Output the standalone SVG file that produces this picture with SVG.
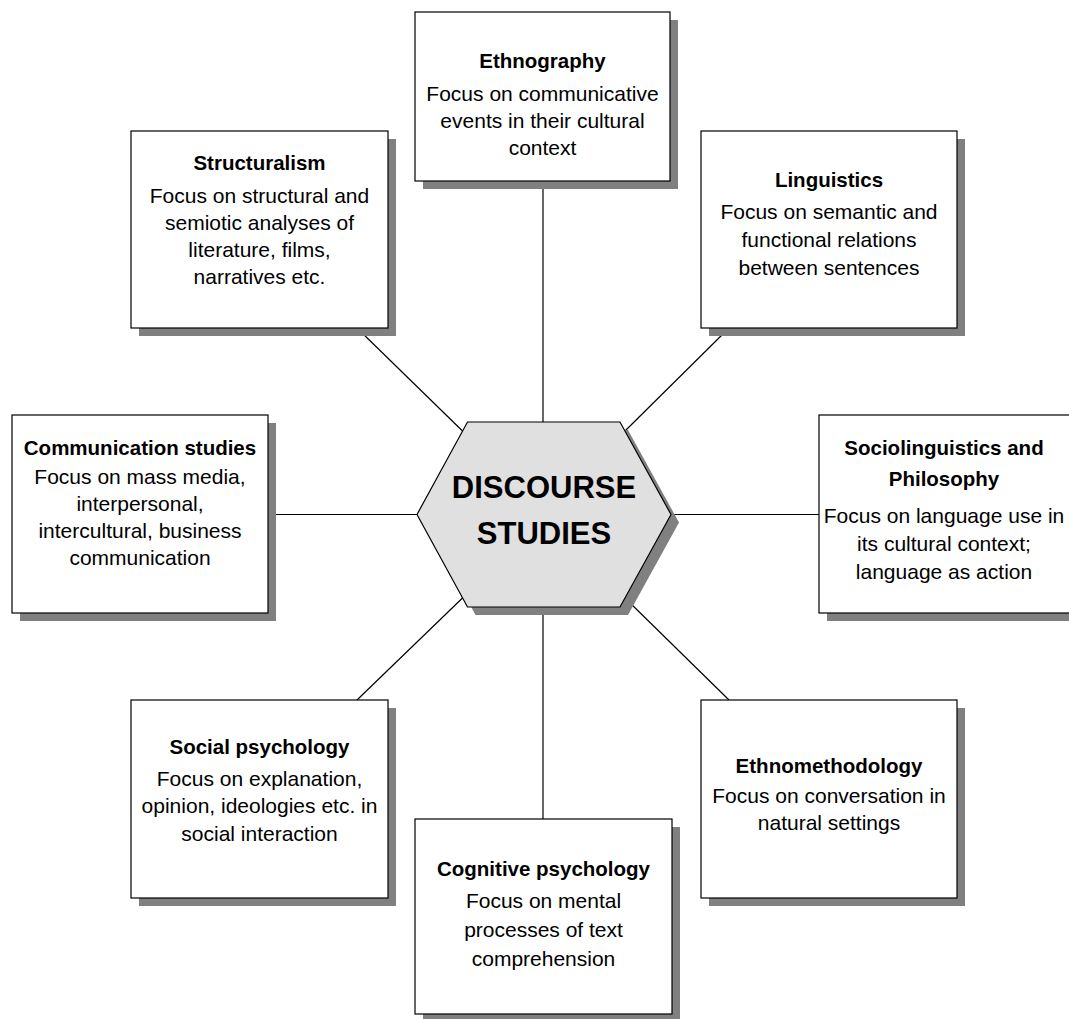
<svg xmlns="http://www.w3.org/2000/svg" width="1069" height="1019" viewBox="0 0 1069 1019">
<style>
.box{fill:#ffffff;stroke:#000000;stroke-width:1.2}
.shadow{fill:#808080}
.hex{fill:#e0e0e0;stroke:#000000;stroke-width:1.2}
.conn{stroke:#000000;stroke-width:1.2;fill:none}
text{font-family:"Liberation Sans",Arial,sans-serif;fill:#000000;text-anchor:middle}
.t{font-weight:bold;font-size:20.5px}
.b{font-size:21px}
.c{font-weight:bold;font-size:31px}
</style>
<rect width="1069" height="1019" fill="#ffffff"/>
<g id="connectors">
<line class="conn" x1="543" y1="181" x2="543" y2="422"/>
<line class="conn" x1="543" y1="607" x2="543" y2="819"/>
<line class="conn" x1="268" y1="514.5" x2="417" y2="514.5"/>
<line class="conn" x1="671" y1="514.5" x2="819" y2="514.5"/>
<line class="conn" x1="357" y1="328" x2="462.5" y2="431"/>
<line class="conn" x1="729" y1="328" x2="625" y2="431"/>
<line class="conn" x1="357" y1="700" x2="462.5" y2="598"/>
<line class="conn" x1="729" y1="700" x2="625" y2="598"/>
</g>
<g id="center">
<polygon class="shadow" points="475.5,430 628,430 679,522.5 628,615 475.5,615 425,522.5"/>
<polygon class="hex" points="467.5,422 620,422 671,514.5 620,607 467.5,607 417,514.5"/>
<text class="c" x="544" y="498">DISCOURSE</text>
<text class="c" x="544" y="544">STUDIES</text>
</g>
<g id="ethnography">
<rect class="shadow" x="423" y="20" width="255" height="169"/>
<rect class="box" x="415" y="12" width="255" height="169"/>
<text class="t" x="542.5" y="68">Ethnography</text>
<text class="b" x="542.5" y="101">Focus on communicative</text>
<text class="b" x="542.5" y="128">events in their cultural</text>
<text class="b" x="542.5" y="155">context</text>
</g>
<g id="structuralism">
<rect class="shadow" x="139" y="139" width="257" height="197"/>
<rect class="box" x="131" y="131" width="257" height="197"/>
<text class="t" x="259.5" y="170">Structuralism</text>
<text class="b" x="259.5" y="203">Focus on structural and</text>
<text class="b" x="259.5" y="230">semiotic analyses of</text>
<text class="b" x="259.5" y="257">literature, films,</text>
<text class="b" x="259.5" y="284">narratives etc.</text>
</g>
<g id="linguistics">
<rect class="shadow" x="709" y="139" width="256" height="197"/>
<rect class="box" x="701" y="131" width="256" height="197"/>
<text class="t" x="829" y="187">Linguistics</text>
<text class="b" x="829" y="219">Focus on semantic and</text>
<text class="b" x="829" y="247">functional relations</text>
<text class="b" x="829" y="275">between sentences</text>
</g>
<g id="communication">
<rect class="shadow" x="20" y="423" width="256" height="198"/>
<rect class="box" x="12" y="415" width="256" height="198"/>
<text class="t" x="140" y="455">Communication studies</text>
<text class="b" x="140" y="484">Focus on mass media,</text>
<text class="b" x="140" y="511">interpersonal,</text>
<text class="b" x="140" y="538">intercultural, business</text>
<text class="b" x="140" y="565">communication</text>
</g>
<g id="sociolinguistics">
<rect class="shadow" x="827" y="423" width="256" height="198"/>
<rect class="box" x="819" y="415" width="256" height="198"/>
<text class="t" x="944" y="455">Sociolinguistics and</text>
<text class="t" x="944" y="486">Philosophy</text>
<text class="b" x="944" y="523">Focus on language use in</text>
<text class="b" x="944" y="551">its cultural context;</text>
<text class="b" x="944" y="579">language as action</text>
</g>
<g id="social-psychology">
<rect class="shadow" x="139" y="708" width="257" height="198"/>
<rect class="box" x="131" y="700" width="257" height="198"/>
<text class="t" x="259.5" y="754">Social psychology</text>
<text class="b" x="259.5" y="786">Focus on explanation,</text>
<text class="b" x="259.5" y="813">opinion, ideologies etc. in</text>
<text class="b" x="259.5" y="841">social interaction</text>
</g>
<g id="ethnomethodology">
<rect class="shadow" x="709" y="708" width="256" height="198"/>
<rect class="box" x="701" y="700" width="256" height="198"/>
<text class="t" x="829" y="773">Ethnomethodology</text>
<text class="b" x="829" y="803">Focus on conversation in</text>
<text class="b" x="829" y="830">natural settings</text>
</g>
<g id="cognitive-psychology">
<rect class="shadow" x="423" y="827" width="257" height="195"/>
<rect class="box" x="415" y="819" width="257" height="195"/>
<text class="t" x="543.5" y="876">Cognitive psychology</text>
<text class="b" x="543.5" y="908">Focus on mental</text>
<text class="b" x="543.5" y="937">processes of text</text>
<text class="b" x="543.5" y="966">comprehension</text>
</g>
</svg>
